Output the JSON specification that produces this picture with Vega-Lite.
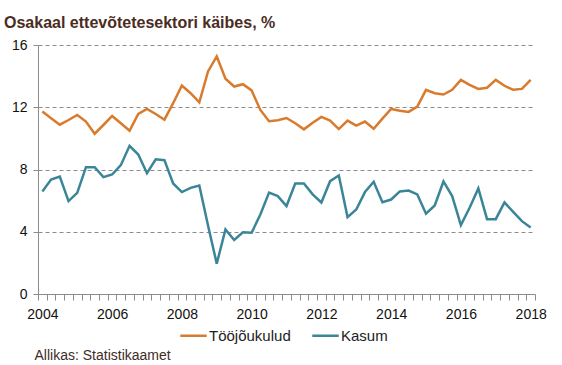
{
  "$schema": "https://vega.github.io/schema/vega-lite/v6.json",
  "autosize": {"type": "none"},
  "width": 497,
  "height": 249,
  "padding": {"left": 38, "top": 45, "right": 27, "bottom": 71},
  "background": "white",
  "config": {"view": {"stroke": null}, "font": "Liberation Sans"},
  "title": {
    "text": "Osakaal ettevõtetesektori käibes, %",
    "anchor": "start",
    "frame": "group",
    "dx": -34,
    "dy": 24,
    "offset": 18,
    "baseline": "alphabetic",
    "font": "Liberation Sans",
    "fontSize": 16,
    "fontWeight": "bold",
    "color": "#4a2c22"
  },
  "data": {
    "values": [
      {"t": 2004.00, "s": "Tööjõukulud", "v": 11.72}, {"t": 2004.25, "s": "Tööjõukulud", "v": 11.30}, {"t": 2004.50, "s": "Tööjõukulud", "v": 10.88}, {"t": 2004.75, "s": "Tööjõukulud", "v": 11.18},
      {"t": 2005.00, "s": "Tööjõukulud", "v": 11.50}, {"t": 2005.25, "s": "Tööjõukulud", "v": 11.08}, {"t": 2005.50, "s": "Tööjõukulud", "v": 10.30}, {"t": 2005.75, "s": "Tööjõukulud", "v": 10.86},
      {"t": 2006.00, "s": "Tööjõukulud", "v": 11.44}, {"t": 2006.25, "s": "Tööjõukulud", "v": 10.97}, {"t": 2006.50, "s": "Tööjõukulud", "v": 10.49}, {"t": 2006.75, "s": "Tööjõukulud", "v": 11.57},
      {"t": 2007.00, "s": "Tööjõukulud", "v": 11.89}, {"t": 2007.25, "s": "Tööjõukulud", "v": 11.57}, {"t": 2007.50, "s": "Tööjõukulud", "v": 11.20}, {"t": 2007.75, "s": "Tööjõukulud", "v": 12.26},
      {"t": 2008.00, "s": "Tööjõukulud", "v": 13.40}, {"t": 2008.25, "s": "Tööjõukulud", "v": 12.90}, {"t": 2008.50, "s": "Tööjõukulud", "v": 12.32}, {"t": 2008.75, "s": "Tööjõukulud", "v": 14.30},
      {"t": 2009.00, "s": "Tööjõukulud", "v": 15.27}, {"t": 2009.25, "s": "Tööjõukulud", "v": 13.83}, {"t": 2009.50, "s": "Tööjõukulud", "v": 13.33}, {"t": 2009.75, "s": "Tööjõukulud", "v": 13.48},
      {"t": 2010.00, "s": "Tööjõukulud", "v": 13.08}, {"t": 2010.25, "s": "Tööjõukulud", "v": 11.83}, {"t": 2010.50, "s": "Tööjõukulud", "v": 11.10}, {"t": 2010.75, "s": "Tööjõukulud", "v": 11.16},
      {"t": 2011.00, "s": "Tööjõukulud", "v": 11.31}, {"t": 2011.25, "s": "Tööjõukulud", "v": 10.97}, {"t": 2011.50, "s": "Tööjõukulud", "v": 10.58}, {"t": 2011.75, "s": "Tööjõukulud", "v": 11.00},
      {"t": 2012.00, "s": "Tööjõukulud", "v": 11.38}, {"t": 2012.25, "s": "Tööjõukulud", "v": 11.14}, {"t": 2012.50, "s": "Tööjõukulud", "v": 10.60}, {"t": 2012.75, "s": "Tööjõukulud", "v": 11.14},
      {"t": 2013.00, "s": "Tööjõukulud", "v": 10.82}, {"t": 2013.25, "s": "Tööjõukulud", "v": 11.08}, {"t": 2013.50, "s": "Tööjõukulud", "v": 10.62}, {"t": 2013.75, "s": "Tööjõukulud", "v": 11.27},
      {"t": 2014.00, "s": "Tööjõukulud", "v": 11.89}, {"t": 2014.25, "s": "Tööjõukulud", "v": 11.78}, {"t": 2014.50, "s": "Tööjõukulud", "v": 11.70}, {"t": 2014.75, "s": "Tööjõukulud", "v": 12.04},
      {"t": 2015.00, "s": "Tööjõukulud", "v": 13.12}, {"t": 2015.25, "s": "Tööjõukulud", "v": 12.90}, {"t": 2015.50, "s": "Tööjõukulud", "v": 12.82}, {"t": 2015.75, "s": "Tööjõukulud", "v": 13.12},
      {"t": 2016.00, "s": "Tööjõukulud", "v": 13.76}, {"t": 2016.25, "s": "Tööjõukulud", "v": 13.44}, {"t": 2016.50, "s": "Tööjõukulud", "v": 13.18}, {"t": 2016.75, "s": "Tööjõukulud", "v": 13.25},
      {"t": 2017.00, "s": "Tööjõukulud", "v": 13.76}, {"t": 2017.25, "s": "Tööjõukulud", "v": 13.38}, {"t": 2017.50, "s": "Tööjõukulud", "v": 13.12}, {"t": 2017.75, "s": "Tööjõukulud", "v": 13.18},
      {"t": 2018.00, "s": "Tööjõukulud", "v": 13.76},
      {"t": 2004.00, "s": "Kasum", "v": 6.59}, {"t": 2004.25, "s": "Kasum", "v": 7.36}, {"t": 2004.50, "s": "Kasum", "v": 7.55}, {"t": 2004.75, "s": "Kasum", "v": 5.97},
      {"t": 2005.00, "s": "Kasum", "v": 6.50}, {"t": 2005.25, "s": "Kasum", "v": 8.15}, {"t": 2005.50, "s": "Kasum", "v": 8.15}, {"t": 2005.75, "s": "Kasum", "v": 7.51},
      {"t": 2006.00, "s": "Kasum", "v": 7.68}, {"t": 2006.25, "s": "Kasum", "v": 8.28}, {"t": 2006.50, "s": "Kasum", "v": 9.52}, {"t": 2006.75, "s": "Kasum", "v": 8.96},
      {"t": 2007.00, "s": "Kasum", "v": 7.76}, {"t": 2007.25, "s": "Kasum", "v": 8.66}, {"t": 2007.50, "s": "Kasum", "v": 8.60}, {"t": 2007.75, "s": "Kasum", "v": 7.10},
      {"t": 2008.00, "s": "Kasum", "v": 6.55}, {"t": 2008.25, "s": "Kasum", "v": 6.82}, {"t": 2008.50, "s": "Kasum", "v": 6.97}, {"t": 2008.75, "s": "Kasum", "v": 4.40},
      {"t": 2009.00, "s": "Kasum", "v": 1.95}, {"t": 2009.25, "s": "Kasum", "v": 4.15}, {"t": 2009.50, "s": "Kasum", "v": 3.47}, {"t": 2009.75, "s": "Kasum", "v": 3.96},
      {"t": 2010.00, "s": "Kasum", "v": 3.94}, {"t": 2010.25, "s": "Kasum", "v": 5.11}, {"t": 2010.50, "s": "Kasum", "v": 6.52}, {"t": 2010.75, "s": "Kasum", "v": 6.29},
      {"t": 2011.00, "s": "Kasum", "v": 5.65}, {"t": 2011.25, "s": "Kasum", "v": 7.10}, {"t": 2011.50, "s": "Kasum", "v": 7.10}, {"t": 2011.75, "s": "Kasum", "v": 6.40},
      {"t": 2012.00, "s": "Kasum", "v": 5.88}, {"t": 2012.25, "s": "Kasum", "v": 7.25}, {"t": 2012.50, "s": "Kasum", "v": 7.61}, {"t": 2012.75, "s": "Kasum", "v": 4.94},
      {"t": 2013.00, "s": "Kasum", "v": 5.43}, {"t": 2013.25, "s": "Kasum", "v": 6.55}, {"t": 2013.50, "s": "Kasum", "v": 7.21}, {"t": 2013.75, "s": "Kasum", "v": 5.90},
      {"t": 2014.00, "s": "Kasum", "v": 6.07}, {"t": 2014.25, "s": "Kasum", "v": 6.59}, {"t": 2014.50, "s": "Kasum", "v": 6.65}, {"t": 2014.75, "s": "Kasum", "v": 6.40},
      {"t": 2015.00, "s": "Kasum", "v": 5.16}, {"t": 2015.25, "s": "Kasum", "v": 5.69}, {"t": 2015.50, "s": "Kasum", "v": 7.23}, {"t": 2015.75, "s": "Kasum", "v": 6.29},
      {"t": 2016.00, "s": "Kasum", "v": 4.43}, {"t": 2016.25, "s": "Kasum", "v": 5.54}, {"t": 2016.50, "s": "Kasum", "v": 6.78}, {"t": 2016.75, "s": "Kasum", "v": 4.81},
      {"t": 2017.00, "s": "Kasum", "v": 4.81}, {"t": 2017.25, "s": "Kasum", "v": 5.88}, {"t": 2017.50, "s": "Kasum", "v": 5.28}, {"t": 2017.75, "s": "Kasum", "v": 4.68},
      {"t": 2018.00, "s": "Kasum", "v": 4.27}
    ]
  },
  "mark": {"type": "line", "strokeWidth": 2.5, "interpolate": "linear"},
  "encoding": {
    "x": {
      "field": "t",
      "type": "quantitative",
      "scale": {"domain": [2003.875, 2018.125], "nice": false, "zero": false},
      "axis": {
        "values": [2003.875, 2004.125, 2004.375, 2004.625, 2004.875, 2005.125, 2005.375, 2005.625, 2005.875, 2006.125, 2006.375, 2006.625, 2006.875, 2007.125, 2007.375, 2007.625, 2007.875, 2008.125, 2008.375, 2008.625, 2008.875, 2009.125, 2009.375, 2009.625, 2009.875, 2010.125, 2010.375, 2010.625, 2010.875, 2011.125, 2011.375, 2011.625, 2011.875, 2012.125, 2012.375, 2012.625, 2012.875, 2013.125, 2013.375, 2013.625, 2013.875, 2014.125, 2014.375, 2014.625, 2014.875, 2015.125, 2015.375, 2015.625, 2015.875, 2016.125, 2016.375, 2016.625, 2016.875, 2017.125, 2017.375, 2017.625, 2017.875, 2018.125],
        "labelExpr": "((datum.value + 0.125) % 2 == 0) ? format(datum.value + 0.125, 'd') : ''",
        "labelOffset": 4.4,
        "labelOverlap": false,
        "labelFlush": false,
        "labelBaseline": "alphabetic",
        "labelPadding": 18.5,
        "labelFontSize": 14,
        "labelColor": "#111111",
        "labelFont": "Liberation Sans",
        "tickSize": 6,
        "tickColor": "#8c8c8c",
        "domainColor": "#8c8c8c",
        "grid": false,
        "title": "Allikas: Statistikaamet",
        "titleAnchor": "start",
        "titleAlign": "left",
        "titleBaseline": "alphabetic",
        "titleX": -4,
        "titleY": 65,
        "titleFont": "Liberation Sans",
        "titleFontSize": 14,
        "titleFontWeight": "normal",
        "titleColor": "#3e2d27"
      }
    },
    "y": {
      "field": "v",
      "type": "quantitative",
      "scale": {"domain": [0, 16], "nice": false},
      "axis": {
        "values": [0, 4, 8, 12, 16],
        "grid": true,
        "gridDash": [4, 3],
        "gridColor": "#8c8c8c",
        "gridWidth": 1,
        "domainColor": "#8c8c8c",
        "tickColor": "#8c8c8c",
        "tickSize": 5,
        "labelPadding": 6,
        "labelFontSize": 14,
        "labelColor": "#111111",
        "labelFont": "Liberation Sans",
        "title": null
      }
    },
    "color": {
      "field": "s",
      "type": "nominal",
      "scale": {"domain": ["Tööjõukulud", "Kasum"], "range": ["#d97b2c", "#3b8598"]},
      "legend": {
        "title": null,
        "orient": "none",
        "direction": "horizontal",
        "legendX": 141,
        "legendY": 276,
        "symbolType": "stroke",
        "symbolSize": 700,
        "symbolStrokeWidth": 2.5,
        "labelFontSize": 15,
        "labelFont": "Liberation Sans",
        "labelColor": "#222222",
        "labelOffset": 1,
        "columnPadding": 16
      }
    }
  }
}
